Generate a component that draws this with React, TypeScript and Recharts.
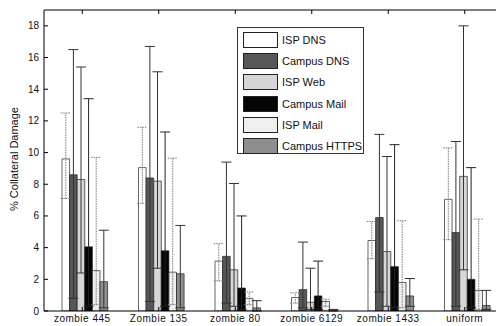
import React from "react";
import { BarChart, Bar, XAxis, YAxis, ErrorBar, ReferenceLine } from "recharts";

const categories = ["zombie 445", "Zombie 135", "zombie 80", "zombie 6129", "zombie 1433", "uniform"];
const seriesNames = ["ISP DNS", "Campus DNS", "ISP Web", "Campus Mail", "ISP Mail", "Campus HTTPS"];

const ispDns = [9.6, 9.05, 3.15, 0.85, 4.45, 7.05];
const ispDnsLo = [7.1, 6.8, 1.9, 0.5, 3.3, 4.5];
const ispDnsHi = [12.5, 11.6, 4.25, 1.15, 5.65, 10.3];

const campusDns = [8.6, 8.4, 3.45, 1.35, 5.9, 4.95];
const campusDnsLo = [0.8, 0.6, 0.5, 0.2, 1.2, 0.3];
const campusDnsHi = [16.5, 16.7, 9.4, 4.35, 11.15, 10.7];

const ispWeb = [8.3, 8.2, 2.6, 0.55, 3.75, 8.5];
const ispWebLo = [2.4, 2.7, 0.3, 0.1, 0.3, 2.6];
const ispWebHi = [15.4, 15.1, 8.05, 2.7, 9.75, 18.0];

const campusMail = [4.05, 3.8, 1.45, 0.95, 2.8, 2.0];
const campusMailLo = [0.3, 0.3, 0.1, 0.1, 0.2, 0.2];
const campusMailHi = [13.4, 11.3, 6.0, 3.15, 10.5, 9.05];

const ispMail = [2.55, 2.45, 0.8, 0.6, 1.8, 1.3];
const ispMailLo = [0.4, 0.4, 0.4, 0.3, 0.2, 0.1];
const ispMailHi = [9.7, 9.65, 1.2, 0.75, 5.7, 5.8];

const campusHttps = [1.85, 2.35, 0.2, 0.05, 0.95, 0.35];
const campusHttpsLo = [0.2, 0.2, 0.0, 0.0, 0.3, 0.1];
const campusHttpsHi = [5.1, 5.4, 0.65, 0.1, 2.05, 1.3];

const yTicks = [0, 2, 4, 6, 8, 10, 12, 14, 16, 18];
const yMax = 19;

const seriesValues = [ispDns, campusDns, ispWeb, campusMail, ispMail, campusHttps];
const seriesLo = [ispDnsLo, campusDnsLo, ispWebLo, campusMailLo, ispMailLo, campusHttpsLo];
const seriesHi = [ispDnsHi, campusDnsHi, ispWebHi, campusMailHi, ispMailHi, campusHttpsHi];

const fills = ["#ffffff", "#575757", "#d6d6d6", "#050505", "#efefef", "#8e8e8e"];
const errStroke = ["#777", "#333", "#333", "#222", "#777", "#333"];
const errDash = ["1.5 1", undefined, undefined, undefined, "1.5 1", undefined];

const data = categories.map((c, i) => {
  const row: any = { name: c };
  seriesValues.forEach((vals, s) => {
    row["s" + s] = vals[i];
    row["e" + s] = [Math.max(0, vals[i] - seriesLo[s][i]), Math.max(0, seriesHi[s][i] - vals[i])];
  });
  return row;
});

const FONT = "'Liberation Sans', Arial, sans-serif";
const PLOT_BOTTOM = 311;
const PLOT_TOP = 10;

const YTick = (props: any) => {
  const { x, y, payload } = props;
  return (
    <g>
      <line x1={x} x2={x + 4} y1={y} y2={y} stroke="#000" strokeWidth={1} />
      <text x={x - 5} y={y} dy={3.5} textAnchor="end" fontSize={10} fontFamily={FONT} fill="#111">
        {payload.value}
      </text>
    </g>
  );
};

const XTick = (props: any) => {
  const { x, payload } = props;
  const cx = x - 3;
  return (
    <g>
      <line x1={cx} x2={cx} y1={PLOT_BOTTOM} y2={PLOT_BOTTOM - 4} stroke="#000" strokeWidth={1} />
      <text x={cx} y={PLOT_BOTTOM + 11} textAnchor="middle" fontSize={10} letterSpacing={0.5} fontFamily={FONT} fill="#111">
        {payload.value}
      </text>
    </g>
  );
};

const TopTick = (props: any) => {
  const { x } = props;
  const cx = x - 3;
  return <line x1={cx} x2={cx} y1={PLOT_TOP} y2={PLOT_TOP + 4} stroke="#000" strokeWidth={1} />;
};

export default function App() {
  return (
    <div style={{ position: "fixed", left: 0, top: 0, width: 496, height: 326, overflow: "hidden", background: "#fff" }}>
      <BarChart
        width={506}
        height={326}
        data={data}
        margin={{ top: 9, right: 0, bottom: 0, left: 0 }}
        barGap={0}
        barSize={7.6}
      >
        <XAxis
          dataKey="name"
          height={15}
          tickSize={0}
          tickMargin={0}
          tickLine={false}
          interval={0}
          padding={{ left: 3, right: 0 }}
          axisLine={{ stroke: "#000", strokeWidth: 1 }}
          tick={<XTick />}
        />
        <XAxis
          xAxisId="top"
          orientation="top"
          dataKey="name"
          height={1}
          tickSize={0}
          tickMargin={0}
          tickLine={false}
          interval={0}
          padding={{ left: 3, right: 0 }}
          axisLine={false}
          tick={<TopTick />}
        />
        <YAxis
          width={44}
          domain={[0, yMax]}
          ticks={yTicks}
          tickSize={0}
          tickMargin={0}
          tickLine={false}
          interval={0}
          allowDataOverflow
          axisLine={{ stroke: "#000", strokeWidth: 1 }}
          tick={<YTick />}
        />
        <ReferenceLine y={yMax} stroke="#000" strokeWidth={1} />
        {seriesNames.map((n, s) => (
          <Bar
            key={n}
            dataKey={"s" + s}
            name={n}
            fill={fills[s]}
            stroke="#222"
            strokeWidth={0.7}
            isAnimationActive={false}
          >
            <ErrorBar
              dataKey={"e" + s}
              width={5}
              stroke={errStroke[s]}
              strokeWidth={1}
              strokeDasharray={errDash[s]}
              isAnimationActive={false}
            />
          </Bar>
        ))}
      </BarChart>
      <div
        style={{
          position: "absolute",
          left: 14,
          top: 159,
          transform: "translate(-50%, -50%) rotate(-90deg)",
          whiteSpace: "nowrap",
          fontFamily: FONT,
          fontSize: 11,
          color: "#111",
        }}
      >
        % Collateral Damage
      </div>
      <div
        style={{
          position: "absolute",
          left: 237,
          top: 27,
          width: 127,
          height: 127,
          border: "1px solid #333",
          background: "#fff",
          boxSizing: "border-box",
        }}
      >
        {seriesNames.map((n, s) => (
          <div key={n} style={{ position: "absolute", left: 0, top: 4 + s * 21.2, height: 16, width: 125 }}>
            <div
              style={{
                position: "absolute",
                left: 5,
                top: 0,
                width: 35,
                height: 16,
                background: fills[s],
                border: "1px solid #222",
                boxSizing: "border-box",
              }}
            />
            <div
              style={{
                position: "absolute",
                left: 44,
                top: 1,
                fontFamily: FONT,
                fontSize: 11,
                lineHeight: "14px",
                color: "#111",
                whiteSpace: "nowrap",
              }}
            >
              {n}
            </div>
          </div>
        ))}
      </div>
    </div>
  );
}
